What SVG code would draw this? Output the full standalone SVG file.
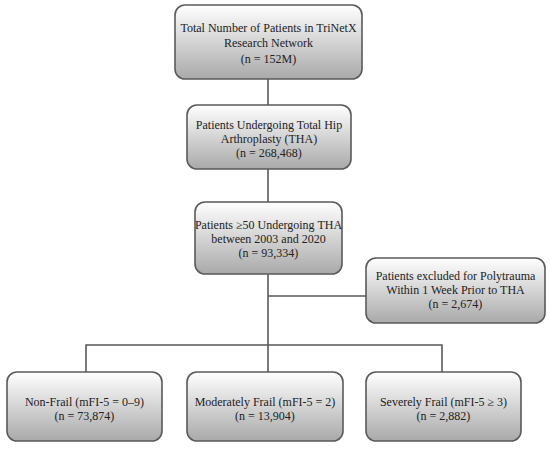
<svg xmlns="http://www.w3.org/2000/svg" width="550" height="449" viewBox="0 0 550 449">
<defs>
<linearGradient id="g" x1="0" y1="0" x2="0" y2="1">
<stop offset="0" stop-color="#ffffff"/>
<stop offset="1" stop-color="#a9a9a9"/>
</linearGradient>
<style>
.box{fill:url(#g);stroke:#5a5a5a;stroke-width:1.6}
.t{font-family:"Liberation Serif","Times New Roman",serif;font-size:12px;fill:#222;text-anchor:middle}
.c{fill:none;stroke:#5a5a5a;stroke-width:1.6}
</style>
</defs>
<rect width="550" height="449" fill="#fff"/>
<g id="connectors">
<line class="c" x1="268" y1="79" x2="268" y2="105"/>
<line class="c" x1="268" y1="169" x2="268" y2="202"/>
<line class="c" x1="268" y1="274" x2="268" y2="372"/>
<line class="c" x1="268" y1="296" x2="366" y2="296"/>
<polyline class="c" points="86,372 86,345 442,345 442,372"/>
</g>
<g id="n1">
<rect class="box" x="175" y="5" width="187" height="74" rx="10"/>
<text class="t" x="268.5" y="32">Total Number of Patients in TriNetX</text>
<text class="t" x="268.5" y="47">Research Network</text>
<text class="t" x="268.5" y="63">(n = 152M)</text>
</g>
<g id="n2">
<rect class="box" x="187" y="105" width="164" height="64" rx="10"/>
<text class="t" x="269" y="129">Patients Undergoing Total Hip</text>
<text class="t" x="269" y="143">Arthroplasty (THA)</text>
<text class="t" x="269" y="157">(n = 268,468)</text>
</g>
<g id="n3">
<rect class="box" x="195" y="202" width="147" height="72" rx="10"/>
<text class="t" x="268.5" y="229">Patients ≥50 Undergoing THA</text>
<text class="t" x="268.5" y="243">between 2003 and 2020</text>
<text class="t" x="268.5" y="257">(n = 93,334)</text>
</g>
<g id="n4">
<rect class="box" x="366" y="258" width="179" height="65" rx="10"/>
<text class="t" x="455.5" y="280">Patients excluded for Polytrauma</text>
<text class="t" x="455.5" y="294">Within 1 Week Prior to THA</text>
<text class="t" x="455.5" y="308">(n = 2,674)</text>
</g>
<g id="n5">
<rect class="box" x="7" y="372" width="155" height="69" rx="10"/>
<text class="t" x="84.5" y="406">Non-Frail (mFI-5 = 0–9)</text>
<text class="t" x="84.5" y="420">(n = 73,874)</text>
</g>
<g id="n6">
<rect class="box" x="187" y="372" width="156" height="69" rx="10"/>
<text class="t" x="265" y="406">Moderately Frail (mFI-5 = 2)</text>
<text class="t" x="265" y="420">(n = 13,904)</text>
</g>
<g id="n7">
<rect class="box" x="366" y="372" width="155" height="69" rx="10"/>
<text class="t" x="443.5" y="406">Severely Frail (mFI-5 ≥ 3)</text>
<text class="t" x="443.5" y="420">(n = 2,882)</text>
</g>
</svg>
